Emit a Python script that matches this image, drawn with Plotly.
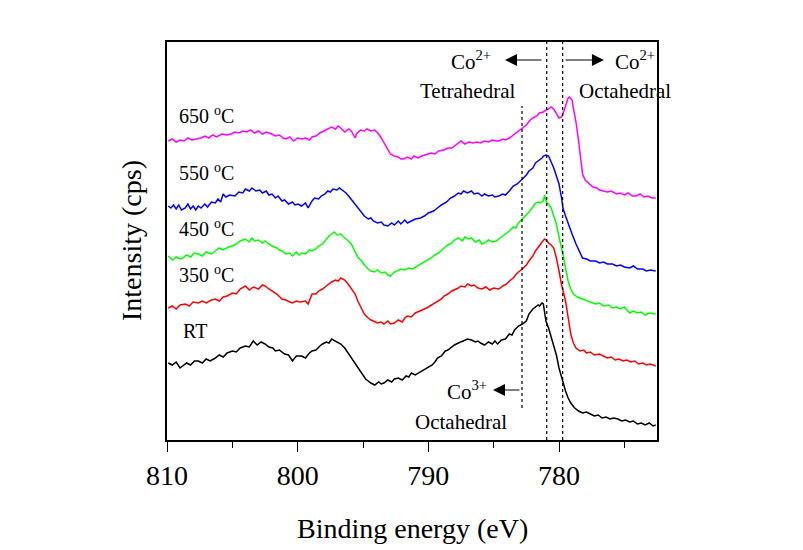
import plotly.graph_objects as go

# ---- data (binding energy in eV, intensity in arbitrary units, offset stacked) ----
e_rt = [809.9, 809.6, 809.3, 809.0, 808.8, 808.5, 808.2, 807.9, 807.6, 807.3, 807.0, 806.7,
        806.3, 806.0, 805.7, 805.4, 805.0, 804.7, 804.4, 804.0, 803.7, 803.4, 803.1, 802.8,
        802.5, 802.2, 801.9, 801.7, 801.4, 801.0, 800.7, 800.4, 800.1, 799.7, 799.4, 799.1,
        798.9, 798.6, 798.3, 798.1, 797.8, 797.6, 797.4, 797.1, 796.9, 796.7, 796.4, 796.2,
        795.9, 795.6, 795.3, 795.1, 794.8, 794.6, 794.4, 794.1, 793.8, 793.6, 793.4, 793.1,
        792.8, 792.6, 792.3, 792.0, 791.7, 791.5, 791.3, 791.0, 790.6, 790.3, 790.0, 789.7,
        789.5, 789.3, 789.0, 788.7, 788.5, 788.3, 788.0, 787.7, 787.3, 787.0, 786.7, 786.4,
        786.2, 786.0, 785.7, 785.4, 785.1, 784.9, 784.7, 784.4, 784.1, 783.8, 783.6, 783.4,
        783.1, 782.8, 782.5, 782.3, 782.0, 781.8, 781.6, 781.5, 781.3, 781.2, 781.0, 780.8,
        780.5, 780.2, 780.0, 779.8, 779.5, 779.3, 779.1, 778.8, 778.5, 778.2, 777.9, 777.6,
        777.3, 777.0, 776.7, 776.4, 776.1, 775.8, 775.5, 775.2, 774.9, 774.6, 774.3, 774.0,
        773.7, 773.4, 773.1, 772.8, 772.6]
i_rt = [77, 75, 78, 72, 74, 77, 75, 79, 79, 77, 81, 79,
        82, 85, 83, 87, 89, 88, 92, 94, 93, 99, 95, 98,
        96, 93, 92, 89, 90, 86, 85, 79, 84, 84, 82, 87,
        89, 90, 94, 96, 98, 97, 101, 99, 98, 96, 92, 88,
        82, 77, 71, 66, 61, 59, 57, 55, 58, 56, 57, 60,
        58, 61, 62, 60, 64, 63, 67, 65, 68, 70, 72, 75,
        78, 82, 84, 89, 90, 92, 95, 97, 99, 101, 100, 98,
        99, 97, 95, 98, 96, 99, 96, 100, 101, 106, 105, 110,
        114, 116, 119, 126, 131, 133, 135, 134, 137, 136, 119, 112,
        99, 85, 72, 62, 49, 42, 37, 32, 29, 27, 28, 26,
        24, 25, 22, 23, 21, 22, 21, 19, 20, 18, 19, 16,
        17, 15, 17, 14, 15]

e_350 = [809.9, 809.6, 809.3, 809.0, 808.6, 808.3, 808.0, 807.6, 807.3, 807.0, 806.6, 806.3,
         806.0, 805.7, 805.4, 805.0, 804.7, 804.4, 804.0, 803.7, 803.4, 803.0, 802.7, 802.5,
         802.2, 801.96, 801.6, 801.2, 800.9, 800.6, 800.4, 800.1, 799.8, 799.4, 799.2, 798.9,
         798.6, 798.4, 798.1, 797.8, 797.6, 797.4, 797.1, 796.9, 796.7, 796.4, 796.2, 795.9,
         795.6, 795.4, 795.1, 794.9, 794.6, 794.4, 794.2, 793.9, 793.6, 793.4, 793.1, 792.9,
         792.6, 792.3, 792.0, 791.8, 791.6, 791.3, 791.0, 790.6, 790.3, 790.0, 789.6, 789.3,
         789.0, 788.8, 788.5, 788.2, 788.0, 787.7, 787.5, 787.2, 787.0, 786.7, 786.5, 786.2,
         785.9, 785.6, 785.3, 785.0, 784.6, 784.3, 784.0, 783.8, 783.5, 783.2, 782.8, 782.5,
         782.3, 782.0, 781.8, 781.5, 781.3, 781.1, 780.9, 780.8, 780.6, 780.4, 780.2, 780.0,
         779.8, 779.5, 779.3, 779.1, 778.9, 778.7, 778.4, 778.1, 777.9, 777.6, 777.3, 776.9,
         776.6, 776.3, 776.0, 775.7, 775.4, 775.1, 774.8, 774.5, 774.2, 773.9, 773.6, 773.3,
         773.0, 772.6]
i_350 = [132, 134, 131, 135, 136, 134, 138, 137, 139, 137, 140, 141,
         139, 143, 144, 147, 146, 151, 154, 150, 153, 151, 155, 154,
         151, 149, 146, 141, 140, 138, 137, 139, 138, 139, 136, 146,
         146, 149, 151, 154, 156, 158, 160, 159, 162, 160, 157, 152,
         146, 139, 132, 126, 122, 120, 119, 117, 118, 116, 119, 116,
         117, 120, 118, 122, 124, 123, 127, 129, 131, 133, 136, 139,
         141, 144, 146, 149, 150, 152, 154, 153, 156, 154, 155, 152,
         151, 153, 150, 152, 151, 154, 156, 159, 162, 167, 171, 175,
         179, 184, 189, 195, 198, 201, 199, 197, 195, 192, 182, 169,
         155, 139, 122, 106, 97, 92, 89, 90, 87, 88, 85, 86,
         84, 82, 83, 80, 81, 79, 80, 78, 79, 76, 77, 75,
         76, 74]

e_450 = [809.9, 809.6, 809.3, 809.0, 808.8, 808.5, 808.2, 807.9, 807.6, 807.3, 807.0, 806.6,
         806.3, 806.0, 805.7, 805.3, 805.0, 804.7, 804.4, 804.0, 803.7, 803.5, 803.3, 803.0,
         802.7, 802.5, 802.2, 801.96, 801.6, 801.4, 801.2, 800.9, 800.6, 800.4, 800.1, 799.9,
         799.7, 799.4, 799.1, 798.9, 798.6, 798.4, 798.1, 797.8, 797.6, 797.4, 797.2, 797.0,
         796.7, 796.4, 796.2, 795.9, 795.6, 795.4, 795.1, 794.9, 794.6, 794.4, 794.1, 793.9,
         793.6, 793.3, 793.1, 792.9, 792.6, 792.3, 792.1, 791.8, 791.5, 791.2, 790.8, 790.5,
         790.2, 789.8, 789.5, 789.2, 788.8, 788.5, 788.2, 788.0, 787.7, 787.4, 787.2, 786.9,
         786.7, 786.4, 786.1, 785.9, 785.7, 785.4, 785.1, 784.8, 784.5, 784.2, 783.8, 783.5,
         783.3, 783.1, 782.8, 782.5, 782.3, 782.0, 781.8, 781.6, 781.4, 781.2, 781.1, 780.95,
         780.8, 780.6, 780.4, 780.2, 780.0, 779.8, 779.7, 779.5, 779.3, 779.1, 778.9, 778.6,
         778.2, 777.9, 777.6, 777.2, 776.9, 776.6, 776.2, 775.9, 775.6, 775.3, 775.0, 774.6,
         774.3, 774.0, 773.7, 773.4, 773.1, 772.8, 772.6]
i_450 = [184, 180, 183, 181, 182, 185, 183, 187, 186, 184, 188, 186,
         189, 192, 190, 193, 194, 196, 199, 201, 198, 202, 199, 200,
         197, 199, 196, 194, 192, 190, 189, 186, 187, 184, 188, 185,
         187, 186, 190, 189, 191, 194, 196, 201, 204, 206, 208, 205,
         206, 202, 200, 196, 188, 183, 179, 175, 171, 169, 168, 170,
         167, 168, 165, 164, 168, 170, 171, 170, 172, 171, 174, 176,
         179, 182, 185, 187, 192, 195, 197, 200, 202, 199, 203, 201,
         202, 198, 200, 196, 197, 200, 198, 199, 202, 205, 209, 213,
         212, 217, 221, 226, 228, 233, 237, 238, 237, 239, 245, 237,
         236, 232, 224, 216, 203, 192, 186, 172, 159, 151, 146, 143,
         141, 140, 138, 136, 137, 134, 135, 132, 133, 131, 133, 127,
         129, 127, 128, 125, 127, 126, 126]

e_550 = [809.9, 809.7, 809.5, 809.3, 809.1, 808.9, 808.6, 808.4, 808.2, 808.0, 807.8, 807.6,
         807.4, 807.1, 806.9, 806.6, 806.3, 806.1, 805.9, 805.7, 805.5, 805.2, 804.8, 804.5,
         804.2, 804.0, 803.7, 803.5, 803.2, 802.9, 802.7, 802.4, 802.2, 801.96, 801.7, 801.5,
         801.2, 801.0, 800.7, 800.4, 800.2, 799.97, 799.7, 799.4, 799.2, 798.9, 798.7, 798.4,
         798.2, 797.9, 797.7, 797.5, 797.3, 797.0, 796.8, 796.5, 796.3, 796.1, 795.8, 795.5,
         795.2, 794.9, 794.6, 794.4, 794.2, 793.9, 793.6, 793.4, 793.1, 792.8, 792.6, 792.3,
         792.1, 791.8, 791.6, 791.3, 791.0, 790.6, 790.3, 790.0, 789.6, 789.3, 789.0, 788.6,
         788.3, 788.0, 787.7, 787.5, 787.3, 787.0, 786.7, 786.5, 786.2, 785.9, 785.7, 785.4,
         785.1, 784.9, 784.6, 784.3, 784.1, 783.8, 783.5, 783.2, 783.0, 782.8, 782.5, 782.3,
         782.0, 781.8, 781.5, 781.3, 781.2, 781.0, 780.8, 780.6, 780.4, 780.2, 780.0, 779.8,
         779.7, 779.5, 779.2, 779.0, 778.7, 778.5, 778.2, 777.9, 777.6, 777.2, 776.9, 776.6,
         776.3, 775.9, 775.6, 775.3, 775.0, 774.6, 774.3, 774.0, 773.6, 773.3, 773.0, 772.6]
i_550 = [234, 232, 235, 231, 235, 230, 232, 236, 231, 234, 230, 234,
         232, 236, 233, 238, 237, 241, 238, 246, 243, 245, 244, 248,
         247, 251, 249, 252, 249, 250, 247, 249, 245, 246, 242, 244,
         239, 240, 236, 238, 235, 236, 234, 237, 232, 239, 242, 241,
         244, 246, 249, 248, 251, 250, 252, 249, 247, 244, 239, 234,
         229, 224, 221, 222, 219, 217, 218, 215, 214, 217, 215, 219,
         216, 220, 217, 219, 221, 222, 224, 227, 229, 232, 235, 238,
         242, 244, 247, 246, 249, 247, 249, 246, 247, 244, 246, 244,
         245, 243, 244, 246, 245, 249, 254, 256, 259, 261, 265, 269,
         272, 277, 280, 282, 284, 285, 284, 278, 272, 264, 256, 242,
         232, 224, 212, 206, 196, 190, 182, 181, 179, 179, 177, 178,
         176, 176, 174, 175, 173, 172, 174, 171, 171, 169, 170, 169]

e_650 = [809.9, 809.6, 809.3, 809.0, 808.7, 808.4, 808.1, 807.8, 807.4, 807.1, 806.8, 806.5,
         806.2, 805.8, 805.4, 805.1, 804.8, 804.5, 804.2, 803.9, 803.6, 803.3, 803.0, 802.7,
         802.4, 802.0, 801.7, 801.4, 801.1, 800.9, 800.6, 800.3, 800.0, 799.7, 799.4, 799.1,
         798.9, 798.6, 798.3, 798.0, 797.7, 797.4, 797.1, 796.9, 796.7, 796.4, 796.1, 795.9,
         795.6, 795.5, 795.2, 794.9, 794.7, 794.4, 794.1, 793.8, 793.6, 793.4, 793.1, 792.9,
         792.6, 792.3, 792.1, 791.9, 791.6, 791.3, 791.1, 790.8, 790.5, 790.2, 789.8, 789.5,
         789.2, 788.8, 788.5, 788.2, 787.9, 787.7, 787.5, 787.2, 786.9, 786.6, 786.3, 786.0,
         785.7, 785.4, 785.1, 784.8, 784.6, 784.3, 784.1, 783.8, 783.5, 783.2, 782.8, 782.5,
         782.2, 782.0, 781.7, 781.5, 781.2, 781.0, 780.8, 780.6, 780.4, 780.2, 780.0, 779.8,
         779.7, 779.5, 779.3, 779.2, 779.0, 778.9, 778.7, 778.5, 778.3, 778.2, 778.0, 777.7,
         777.4, 777.1, 776.9, 776.6, 776.3, 776.0, 775.6, 775.3, 775.0, 774.7, 774.4, 774.1,
         773.8, 773.5, 773.2, 772.9, 772.6]
i_650 = [299, 301, 298, 300, 299, 302, 300, 301, 302, 304, 302, 305,
         303, 306, 305, 306, 308, 307, 309, 308, 310, 307, 309, 306,
         308, 306, 304, 305, 302, 301, 303, 299, 302, 301, 302, 300,
         303, 304, 307, 309, 311, 313, 311, 314, 312, 308, 311, 309,
         302, 306, 310, 309, 311, 309, 310, 306, 302, 297, 290, 286,
         284, 283, 281, 281, 283, 281, 284, 282, 284, 285, 287, 286,
         289, 290, 292, 292, 295, 297, 299, 296, 298, 297, 298, 297,
         299, 298, 300, 299, 299, 301, 300, 302, 305, 308, 312, 315,
         320, 322, 324, 327, 328, 330, 331, 333, 331, 327, 322, 323,
         326, 334, 342, 343, 340, 332, 318, 299, 278, 266, 260, 256,
         253, 252, 250, 249, 248, 249, 246, 247, 245, 247, 244, 244,
         246, 243, 244, 242, 242]

series_names = ["RT", "350 °C", "450 °C", "550 °C", "650 °C"]
series_labels = ["RT", "350 <sup>o</sup>C", "450 <sup>o</sup>C", "550 <sup>o</sup>C", "650 <sup>o</sup>C"]
series_colors = ["#000000", "#FF0000", "#00FF00", "#0000FF", "#FF00FF"]
label_y = [109, 166, 212, 268, 325]

x_ticks = [810, 800, 790, 780]
x_minor = [805, 795, 785, 775]
x_range = [810, 772.5]
y_range = [0, 398]

# reference lines (eV)
dot_tetra = 782.83
dot_mid = 780.94
dot_octa = 779.72

FONT = "Liberation Serif"

fig = go.Figure()
data = [(e_rt, i_rt), (e_350, i_350), (e_450, i_450), (e_550, i_550), (e_650, i_650)]
for (ex, iy), name, col in zip(data, series_names, series_colors):
    fig.add_trace(go.Scatter(x=ex, y=iy, mode="lines", name=name,
                             line=dict(color=col, width=1.5)))

# dotted reference lines
fig.add_shape(type="line", xref="x", yref="y", x0=dot_tetra, x1=dot_tetra, y0=32, y1=334,
              line=dict(color="black", width=1.2, dash="3px,3px"))
for xv in (dot_mid, dot_octa):
    fig.add_shape(type="line", xref="x", yref="paper", x0=xv, x1=xv, y0=0, y1=1,
                  line=dict(color="black", width=1.2, dash="3px,3px"))

ann = []
# curve labels
for lab, yv in zip(series_labels, label_y):
    xoff = 809.2 if lab != "RT" else 808.9
    ann.append(dict(x=xoff, y=yv, xref="x", yref="y", text=lab, showarrow=False,
                    xanchor="left", yanchor="middle",
                    font=dict(family=FONT, size=20, color="black")))
# arrows
arrow_style = dict(showarrow=True, arrowhead=2, arrowsize=2, arrowwidth=1.2,
                   arrowcolor="black", axref="x", ayref="y", xref="x", yref="y", text="")
ann.append(dict(x=784.13, y=380, ax=781.22, ay=380, **arrow_style))
ann.append(dict(x=776.56, y=380, ax=779.62, ay=380, **arrow_style))
ann.append(dict(x=785.05, y=50, ax=782.91, ay=50, **arrow_style))
# texts
txt = dict(showarrow=False, xref="x", yref="y", font=dict(family=FONT, size=21, color="black"))
ann.append(dict(x=786.74, y=380, text="Co<sup>2+</sup>", xanchor="center", yanchor="middle", **txt))
ann.append(dict(x=786.97, y=349, text="Tetrahedral", xanchor="center", yanchor="middle", **txt))
ann.append(dict(x=775.9, y=380, text="Co<sup>2+</sup>", xanchor="left", yanchor="middle", **txt))
ann.append(dict(x=778.66, y=349, text="Octahedral", xanchor="left", yanchor="middle", **txt))
ann.append(dict(x=787.05, y=50, text="Co<sup>3+</sup>", xanchor="center", yanchor="middle", **txt))
ann.append(dict(x=787.5, y=18, text="Octahedral", xanchor="center", yanchor="middle", **txt))
# axis titles
ann.append(dict(x=0.5, y=(439 - 527) / 398, xref="paper", yref="paper", text="Binding energy (eV)",
                showarrow=False, xanchor="center", yanchor="middle",
                font=dict(family=FONT, size=28, color="black")))
ann.append(dict(x=(130 - 166) / 490, y=0.5, xref="paper", yref="paper", text="Intensity (cps)",
                showarrow=False, xanchor="center", yanchor="middle", textangle=-90,
                font=dict(family=FONT, size=28, color="black")))

fig.update_layout(
    width=803, height=550,
    margin=dict(l=159, r=154, t=34, b=118),
    paper_bgcolor="white", plot_bgcolor="white",
    showlegend=False,
    annotations=ann,
    xaxis=dict(range=x_range, tickvals=x_ticks, ticktext=[str(v) for v in x_ticks],
               ticks="outside", ticklen=10, tickwidth=1.2, tickcolor="black",
               minor=dict(tickvals=x_minor, ticks="outside", ticklen=6,
                          tickwidth=1.2, tickcolor="black", showgrid=False),
               showline=True, linecolor="black", linewidth=1.5, mirror=True,
               showgrid=False, zeroline=False,
               tickfont=dict(family=FONT, size=28, color="black")),
    yaxis=dict(range=y_range, showticklabels=False, ticks="", showline=True,
               linecolor="black", linewidth=1.5, mirror=True, showgrid=False, zeroline=False),
)

fig.write_html("out.html")
